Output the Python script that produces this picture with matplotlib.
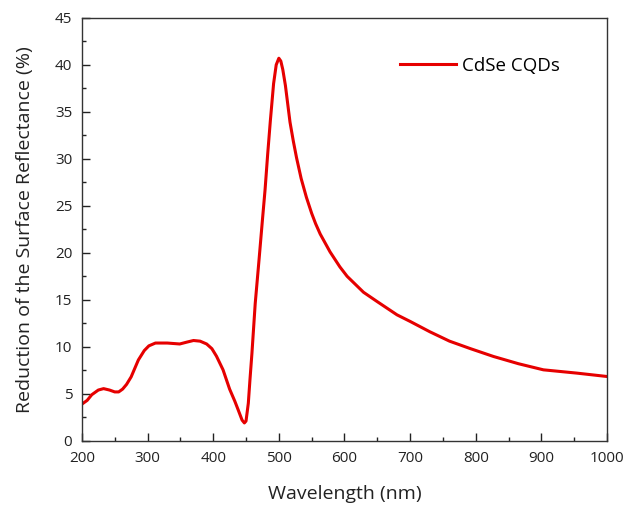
import numpy as np
import matplotlib
matplotlib.use('Agg')
import matplotlib.pyplot as plt
from matplotlib.ticker import MultipleLocator

# values
wavelength = [200, 208, 215, 225, 233, 242, 250, 256, 262, 268, 275, 286, 295, 302, 312,
              330, 349, 360, 370, 380, 390, 398, 405, 415, 425, 433, 438, 444, 447.5, 450,
              453.5, 456, 459, 464, 470, 475, 479, 483, 487, 492, 496, 500, 503, 506, 510,
              517, 522, 527, 534, 542, 550, 556, 563, 578, 593, 604, 629, 650, 680, 700, 730,
              760, 776, 792, 827, 865, 903, 954, 1000]
reduction = [3.9, 4.3, 4.9, 5.4, 5.55, 5.4, 5.2, 5.2, 5.5, 6.0, 6.8, 8.6, 9.6, 10.1, 10.4,
             10.4, 10.3, 10.5, 10.67, 10.6, 10.3, 9.8, 9.0, 7.55, 5.5, 4.2, 3.3, 2.2, 1.9, 2.1,
             4.0, 6.5, 9.3, 14.6, 19.4, 23.5, 26.7, 30.5, 34.0, 38.0, 40.0, 40.7, 40.4, 39.5, 37.8,
             33.9, 31.9, 30.1, 27.9, 25.9, 24.2, 23.1, 22.0, 20.1, 18.5, 17.5, 15.8, 14.8, 13.4, 12.7, 11.6,
             10.6, 10.2, 9.8, 8.97, 8.2, 7.55, 7.2, 6.84]

plt.rcParams['font.family'] = ['Open Sans', 'DejaVu Sans']

fig, ax = plt.subplots(figsize=(6.35, 5.09), dpi=100)
fig.subplots_adjust(left=0.129, right=0.956, top=0.965, bottom=0.134)

ax.plot(wavelength, reduction, color='#e60000', lw=2.2, label='CdSe CQDs')

ax.set_xlim(200, 1000)
ax.set_ylim(0, 45)
ax.xaxis.set_major_locator(MultipleLocator(100))
ax.xaxis.set_minor_locator(MultipleLocator(50))
ax.yaxis.set_major_locator(MultipleLocator(5))
ax.yaxis.set_minor_locator(MultipleLocator(2.5))
ax.tick_params(which='both', direction='in', top=False, right=False, labelsize=11, colors='#222222')
ax.tick_params(which='major', length=5.5, width=1, pad=7)
ax.tick_params(which='minor', length=3, width=1)
for s in ax.spines.values():
    s.set_color('#333333')
    s.set_linewidth(1.0)

ax.set_xlabel('Wavelength (nm)', fontsize=14, color='#222222', labelpad=14)
ax.set_ylabel('Reduction of the Surface Reflectance (%)', fontsize=14, color='#222222', labelpad=15)

ax.legend(loc='center left', frameon=False, fontsize=13.5, handlelength=3.0,
          handletextpad=0.35, borderpad=0, borderaxespad=0,
          bbox_to_anchor=(0.605, 0.887))

plt.savefig('out.png', dpi=100)
